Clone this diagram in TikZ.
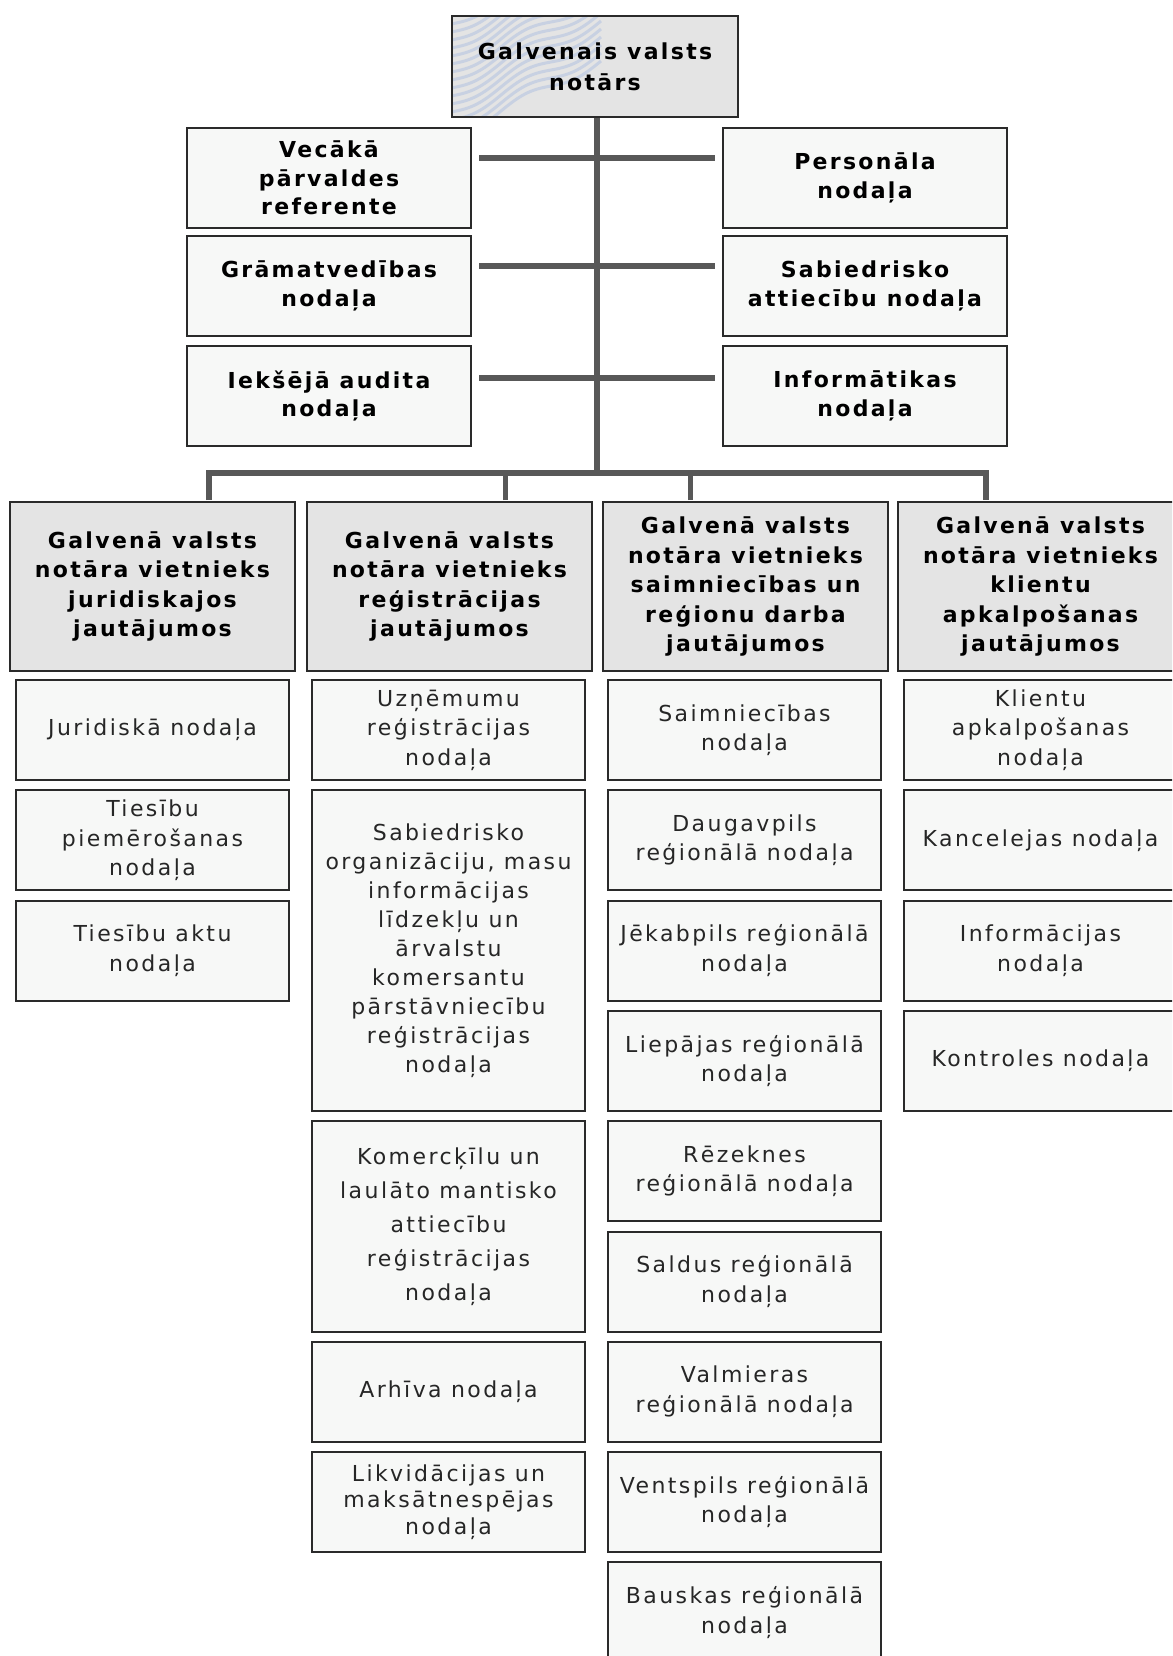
\documentclass[tikz,border=0pt]{standalone}
\usepackage{fontspec}
\setmainfont{DejaVu Sans}
\newfontfamily\bsp[LetterSpace=10.5]{DejaVu Sans}
\newfontfamily\rsp[LetterSpace=11]{DejaVu Sans}
\definecolor{headfill}{HTML}{E4E4E4}
\definecolor{subfill}{HTML}{F7F8F7}
\definecolor{connc}{HTML}{585858}
\definecolor{borderc}{HTML}{2A2A2A}
\definecolor{wavec}{HTML}{C6CFE2}
\tikzset{
  base/.style={draw=borderc, line width=2bp, inner sep=0pt, align=center, anchor=north west},
  headbox/.style={base, fill=headfill, text=black, font={\bsp\bfseries\fontsize{22bp}{29.5bp}\selectfont}},
  upbox/.style={base, fill=subfill, text=black, minimum width=284bp, minimum height=100bp, font={\bsp\bfseries\fontsize{22bp}{28.5bp}\selectfont}},
  subbox/.style={base, fill=subfill, text=black!85, minimum width=273bp, font={\rsp\fontsize{22bp}{29.5bp}\selectfont}},
  deputy/.style={headbox, minimum width=285bp, minimum height=169bp},
  conn/.style={draw=connc, line width=5.5bp},
  busline/.style={draw=connc, line width=6bp},
  wave/.style={draw=wavec, line width=3bp},
}
\begin{document}
\begin{tikzpicture}[x=1bp, y=-1bp]
\useasboundingbox (0,0) rectangle (1172,1656);
\fill[white] (0,0) rectangle (1172,1656);
\clip (0,0) rectangle (1172,1656);

% top box
\node[headbox, minimum width=286bp, minimum height=101bp] (top) at (451,15) {\phantom{X}};
\begin{scope}
  \clip (452,16) rectangle (735,115);
  \foreach \i in {0,...,16} {
    \draw[wave, opacity=0.9] plot[domain=0:150, samples=60, smooth] ({451+\x}, {8+8*\i-0.5*\x+5*sin(3.6*\x)});
  }
\end{scope}
\node[headbox, fill=none, minimum width=286bp, minimum height=101bp, font={\bsp\bfseries\fontsize{22bp}{31bp}\selectfont}] (toplabel) at (451,15) {Galvenais valsts\\notārs};

% staff boxes
\node[upbox] (ul1) at (186,127) {Vecākā\\pārvaldes\\referente};
\node[upbox] (ul2) at (186,235) {Grāmatvedības\\nodaļa};
\node[upbox] (ul3) at (186,345) {Iekšējā audita\\nodaļa};
\node[upbox] (ur1) at (722,127) {Personāla\\nodaļa};
\node[upbox] (ur2) at (722,235) {Sabiedrisko\\attiecību nodaļa};
\node[upbox] (ur3) at (722,345) {Informātikas\\nodaļa};

% deputies
\node[deputy] (g1) at (9,501) {Galvenā valsts\\notāra vietnieks\\juridiskajos\\jautājumos};
\node[deputy] (g2) at (306,501) {Galvenā valsts\\notāra vietnieks\\reģistrācijas\\jautājumos};
\node[deputy] (g3) at (602,501) {Galvenā valsts\\notāra vietnieks\\saimniecības un\\reģionu darba\\jautājumos};
\node[deputy] (g4) at (897,501) {Galvenā valsts\\notāra vietnieks\\klientu\\apkalpošanas\\jautājumos};

% column 1
\node[subbox, minimum height=100bp] (a1) at (15,679) {Juridiskā nodaļa};
\node[subbox, minimum height=100bp] (a2) at (15,789.3) {Tiesību\\piemērošanas\\nodaļa};
\node[subbox, minimum height=100bp] (a3) at (15,899.6) {Tiesību aktu\\nodaļa};

% column 2
\node[subbox, minimum height=100bp] (b1) at (311,679) {Uzņēmumu\\reģistrācijas\\nodaļa};
\node[subbox, minimum height=320.6bp, font={\rsp\fontsize{22bp}{29bp}\selectfont}] (b2) at (311,789.3) {Sabiedrisko\\organizāciju, masu\\informācijas\\līdzekļu un\\ārvalstu\\komersantu\\pārstāvniecību\\reģistrācijas\\nodaļa};
\node[subbox, minimum height=210.3bp, font={\rsp\fontsize{22bp}{34bp}\selectfont}] (b3) at (311,1120.2) {Komercķīlu un\\laulāto mantisko\\attiecību\\reģistrācijas\\nodaļa};
\node[subbox, minimum height=100bp] (b4) at (311,1340.8) {Arhīva nodaļa};
\node[subbox, minimum height=100bp, font={\rsp\fontsize{22bp}{26.5bp}\selectfont}] (b5) at (311,1451.1) {Likvidācijas un\\maksātnespējas\\nodaļa};

% column 3
\node[subbox, minimum height=100bp] (c1) at (607,679) {Saimniecības\\nodaļa};
\node[subbox, minimum height=100bp] (c2) at (607,789.3) {Daugavpils\\reģionālā nodaļa};
\node[subbox, minimum height=100bp] (c3) at (607,899.6) {Jēkabpils reģionālā\\nodaļa};
\node[subbox, minimum height=100bp] (c4) at (607,1009.9) {Liepājas reģionālā\\nodaļa};
\node[subbox, minimum height=100bp] (c5) at (607,1120.2) {Rēzeknes\\reģionālā nodaļa};
\node[subbox, minimum height=100bp] (c6) at (607,1230.5) {Saldus reģionālā\\nodaļa};
\node[subbox, minimum height=100bp] (c7) at (607,1340.8) {Valmieras\\reģionālā nodaļa};
\node[subbox, minimum height=100bp] (c8) at (607,1451.1) {Ventspils reģionālā\\nodaļa};
\node[subbox, minimum height=100bp] (c9) at (607,1561.4) {Bauskas reģionālā\\nodaļa};

% column 4
\node[subbox, minimum height=100bp] (d1) at (903,679) {Klientu\\apkalpošanas\\nodaļa};
\node[subbox, minimum height=100bp] (d2) at (903,789.3) {Kancelejas nodaļa};
\node[subbox, minimum height=100bp] (d3) at (903,899.6) {Informācijas\\nodaļa};
\node[subbox, minimum height=100bp] (d4) at (903,1009.9) {Kontroles nodaļa};

% connectors
\coordinate (bus) at (597,475);
\draw[conn] (top.south -| bus) -- (bus);
\draw[conn] ([xshift=7bp,yshift=20bp]ul1.east) -- ([xshift=-7bp,yshift=20bp]ur1.west);
\draw[conn] ([xshift=7bp,yshift=20bp]ul2.east) -- ([xshift=-7bp,yshift=20bp]ur2.west);
\draw[conn] ([xshift=7bp,yshift=18bp]ul3.east) -- ([xshift=-7bp,yshift=18bp]ur3.west);
\draw[busline] ([xshift=56bp,yshift=1bp]g1.north) -- ++(0,-27) -| ([xshift=-55bp,yshift=1bp]g4.north);
\draw[conn] ([xshift=56bp,yshift=1bp]g2.north) -- ([xshift=56bp]g2.north |- bus);
\draw[conn] ([xshift=-55bp,yshift=1bp]g3.north) -- ([xshift=-55bp]g3.north |- bus);
\end{tikzpicture}
\end{document}
